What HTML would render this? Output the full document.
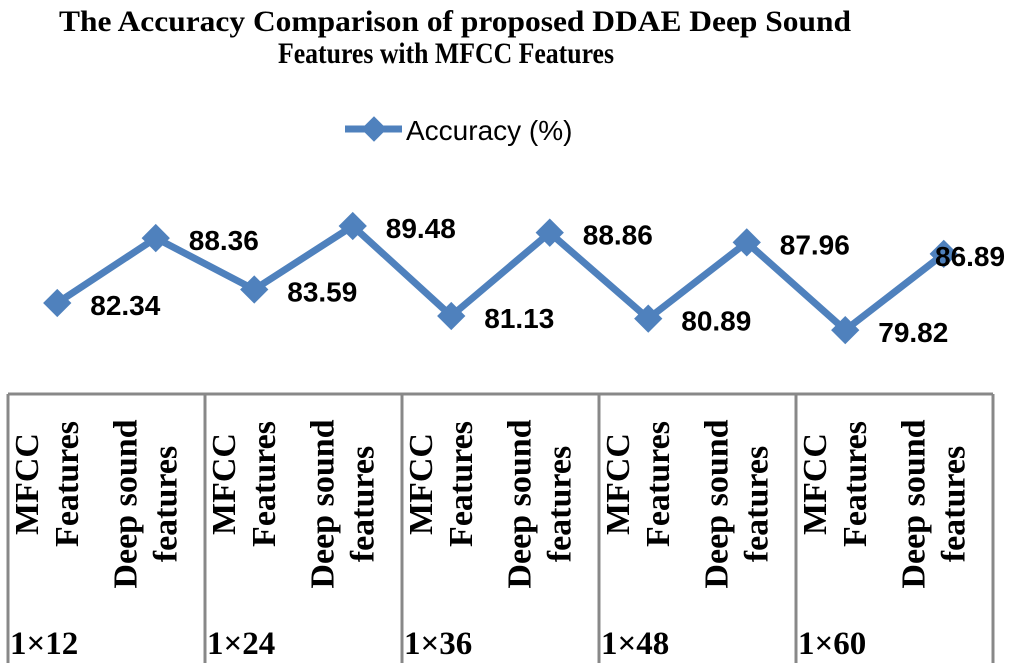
<!DOCTYPE html>
<html><head><meta charset="utf-8"><style>
html,body{margin:0;padding:0;background:#fff;}
svg{display:block;}
</style></head><body>
<svg id="chart" width="1027" height="671" viewBox="0 0 1027 671" xmlns="http://www.w3.org/2000/svg">
<text x="455" y="31" text-anchor="middle" font-family="Liberation Serif, serif" font-weight="bold" font-size="30" textLength="792" lengthAdjust="spacingAndGlyphs">The Accuracy Comparison of proposed DDAE Deep Sound</text>
<text x="446" y="63" text-anchor="middle" font-family="Liberation Serif, serif" font-weight="bold" font-size="30" textLength="336" lengthAdjust="spacingAndGlyphs">Features with MFCC Features</text>
<g>
<line x1="345" y1="129" x2="402" y2="129" stroke="#4f81bd" stroke-width="7"/>
<rect x="365" y="120" width="18" height="18" fill="#4f81bd" transform="rotate(45 374 129)"/>
<text x="406" y="140" font-family="Liberation Sans, sans-serif" font-size="28">Accuracy (%)</text>
</g>
<g id="table"></g>
<g id="series"></g>
</svg>
<script>
const groups = ["1×12","1×24","1×36","1×48","1×60"];
const subcats = [["MFCC","Features"],["Deep sound","features"]];
const values = [82.34,88.36,83.59,89.48,81.13,88.86,80.89,87.96,79.82,86.89];
const labels = ["82.34","88.36","83.59","89.48","81.13","88.86","80.89","87.96","79.82","86.89"];

const NS="http://www.w3.org/2000/svg";
const tblLeft=8, tblRight=993, tblTop=394, tblBottom=663;
const nPts=values.length, step=(tblRight-tblLeft)/nPts;
function xPos(i){return tblLeft+step*(i+0.5);}
function yPos(v){return 226+(89.48-v)*10.78;}
function mk(tag,attrs,parent){const e=document.createElementNS(NS,tag);for(const k in attrs)e.setAttribute(k,attrs[k]);parent.appendChild(e);return e;}

const tableG=document.getElementById('table');
const tl=mk('line',{x1:tblLeft,y1:tblTop,x2:tblRight,y2:tblTop,stroke:'#888','stroke-width':3},tableG);


for(let g=0;g<=groups.length;g++){
  const x=tblLeft+step*2*g;
  const l=mk('line',{x1:x,y1:tblTop,x2:x,y2:tblBottom,stroke:'#888','stroke-width':3},tableG);
  
  
}
groups.forEach((gname,g)=>{
  const t=mk('text',{x:tblLeft+step*2*g+2,y:654,'font-family':'Liberation Serif, serif','font-weight':'bold','font-size':33},tableG);
  t.textContent=gname;
  
  
  subcats.forEach((sc,s)=>{
    const cx=xPos(g*2+s)-8, cy=s===0?484:504;
    sc.forEach((line,li)=>{
      const lx=cx+(li===0?-19:21);
      const t2=mk('text',{x:lx,y:cy,'text-anchor':'middle','dominant-baseline':'middle','font-family':'Liberation Serif, serif','font-weight':'bold','font-size':34,transform:`rotate(-90 ${lx} ${cy})`},tableG);
      t2.textContent=line;
      
      
    });
  });
});

const seriesG=document.getElementById('series');
const pts=values.map((v,i)=>xPos(i)+','+yPos(v)).join(' ');
const pl=mk('polyline',{points:pts,fill:'none',stroke:'#4f81bd','stroke-width':7,'stroke-linejoin':'miter'},seriesG);


values.forEach((v,i)=>{
  const x=xPos(i), y=yPos(v);
  const m=mk('rect',{x:x-10,y:y-10,width:20,height:20,fill:'#4f81bd',transform:`rotate(45 ${x} ${y})`},seriesG);
  
  
  const lx=Math.min(x+33,1015-80);
  const t=mk('text',{x:lx,y:y+12,'font-family':'Liberation Sans, sans-serif','font-weight':'bold','font-size':28},seriesG);
  t.textContent=labels[i];
  
  
});
</script>
</body></html>
